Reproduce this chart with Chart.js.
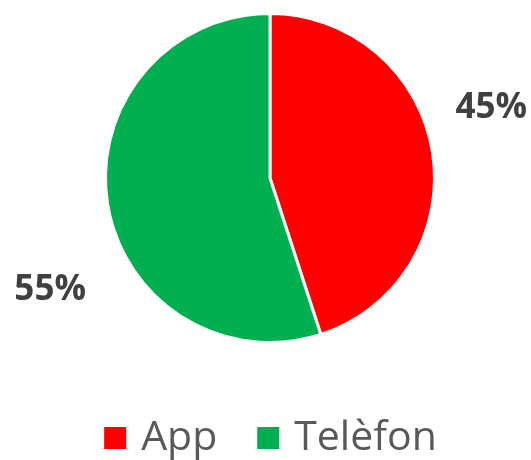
<!DOCTYPE html>
<html>
<head>
<meta charset="utf-8">
<script src="https://cdn.jsdelivr.net/npm/chart.js@4/dist/chart.umd.min.js"></script>
<style>
  html, body { margin: 0; padding: 0; background: #fff; }
  #wrap { width: 531px; height: 460px; position: relative; }
</style>
</head>
<body>
<div id="wrap"><canvas id="c" width="531" height="460"></canvas></div>
<script>
const categories = ['App', 'Telèfon'];
const shares = [45, 55];
const colors = ['#FF0000', '#00B050'];

// label placement tweaks (relative to the slice's mid-angle), like Excel's best fit
const labelAngleShift = [-8.5, -18];
const labelDist = [1.41, 1.50];

const outsideLabels = {
  id: 'outsideLabels',
  afterDatasetsDraw(chart) {
    const ctx = chart.ctx;
    const meta = chart.getDatasetMeta(0);
    ctx.save();
    ctx.font = 'bold 35px "Open Sans"';
    ctx.fillStyle = '#404040';
    ctx.textAlign = 'center';
    ctx.textBaseline = 'middle';
    meta.data.forEach((arc, i) => {
      const p = arc.getProps(['x', 'y', 'startAngle', 'endAngle', 'outerRadius'], true);
      const mid = (p.startAngle + p.endAngle) / 2 + labelAngleShift[i] * Math.PI / 180;
      const r = p.outerRadius * labelDist[i];
      ctx.fillText(shares[i] + '%', p.x + Math.cos(mid) * r, p.y + Math.sin(mid) * r);
    });
    ctx.restore();
  }
};

// legend drawn below the pie
const bottomLegend = {
  id: 'bottomLegend',
  afterDraw(chart) {
    const ctx = chart.ctx;
    ctx.save();
    ctx.font = '41px "Open Sans"';
    ctx.textBaseline = 'middle';
    const box = 22, gap = 15, itemGap = 40;
    const widths = categories.map(t => box + gap + ctx.measureText(t).width);
    const total = widths.reduce((a, b) => a + b, 0) + itemGap * (categories.length - 1);
    let x = (chart.width - total) / 2 + 5;
    const y = 438;
    categories.forEach((t, i) => {
      ctx.fillStyle = colors[i];
      ctx.fillRect(x, y - box / 2, box, box);
      ctx.fillStyle = '#595959';
      ctx.fillText(t, x + box + gap, y);
      x += widths[i] + itemGap;
    });
    ctx.restore();
  }
};

new Chart(document.getElementById('c'), {
  type: 'pie',
  data: {
    labels: categories,
    datasets: [{
      data: shares,
      backgroundColor: colors,
      borderColor: '#ffffff',
      borderWidth: 3
    }]
  },
  options: {
    responsive: false,
    animation: false,
    layout: { padding: { left: 104, right: 95, top: 12, bottom: 116 } },
    plugins: {
      legend: { display: false },
      tooltip: { enabled: false }
    }
  },
  plugins: [outsideLabels, bottomLegend]
});
</script>
</body>
</html>
